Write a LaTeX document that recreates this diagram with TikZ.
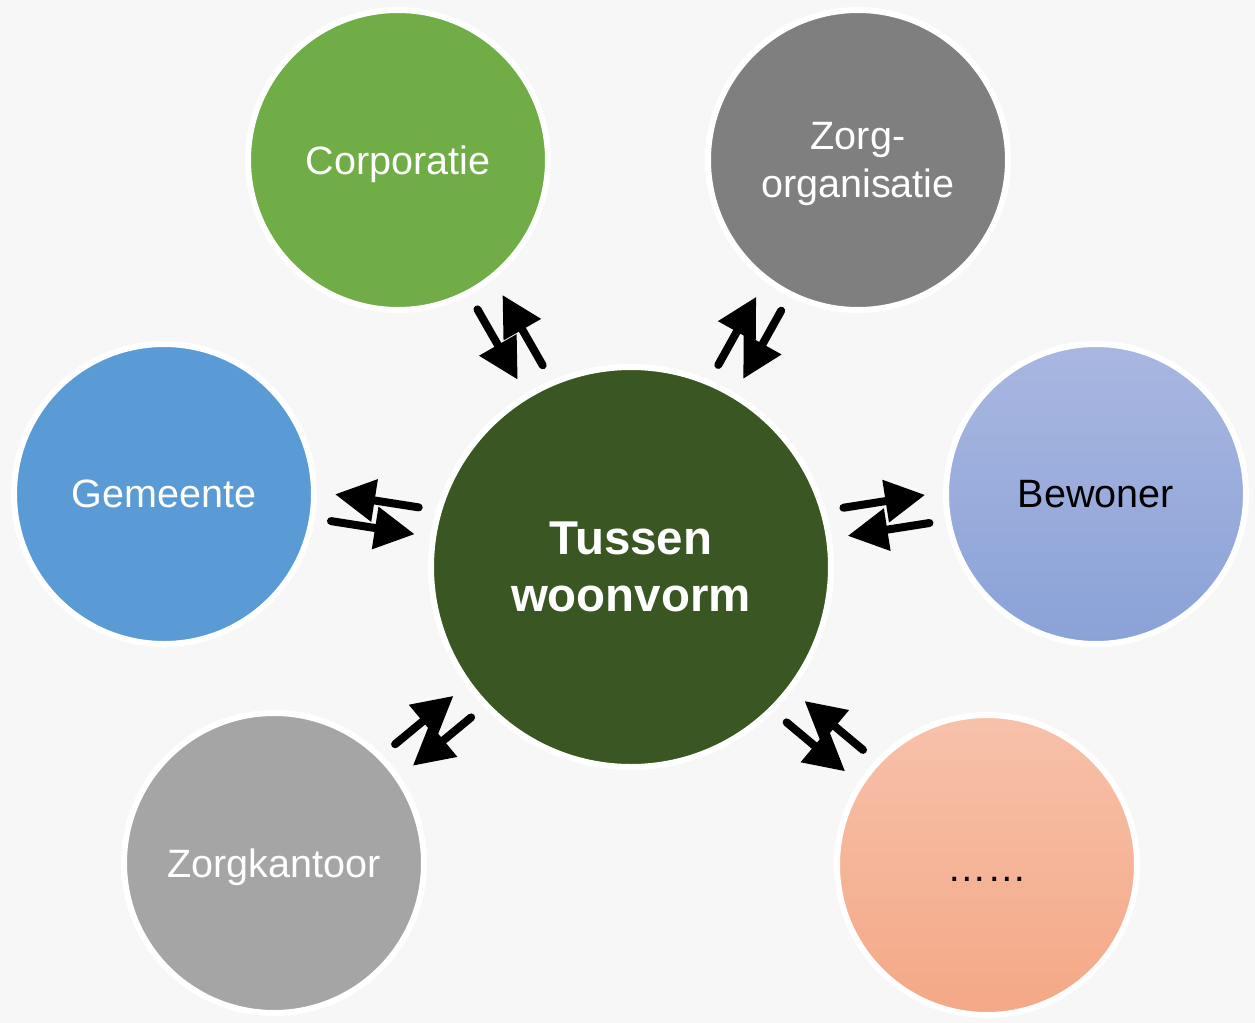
\documentclass[tikz,border=0pt]{standalone}
\usepackage{fontspec}
\setmainfont{Liberation Sans}
\usetikzlibrary{arrows.meta}
\definecolor{bggray}{HTML}{F7F7F7}
\definecolor{corpgreen}{HTML}{70AD47}
\definecolor{zorggray}{HTML}{7F7F7F}
\definecolor{gemblue}{HTML}{5B9BD5}
\definecolor{kantgray}{HTML}{A5A5A5}
\definecolor{hubgreen}{HTML}{3A5623}
\definecolor{bewtop}{HTML}{A9B7E0}
\definecolor{bewbot}{HTML}{8AA2D8}
\definecolor{etctop}{HTML}{F7C1AA}
\definecolor{etcbot}{HTML}{F4A886}
\tikzset{
  partner/.style={circle, minimum size=6cm, inner sep=0pt, draw=white, line width=0.12cm,
    text=white, align=center, text depth=0pt, font=\fontsize{22.5}{27}\selectfont},
  hubnode/.style={circle, minimum size=8cm, inner sep=0pt, draw=white, line width=0.12cm,
    fill=hubgreen, text=white, align=center, font=\fontsize{27}{32.4}\selectfont\bfseries},
  link/.style={-{Triangle[length=0.8cm,width=0.82cm]}, line width=0.16cm, line cap=round,
    shorten <=0.32cm, shorten >=0.32cm},
}

\begin{document}
\begin{tikzpicture}
  \fill[bggray] (0,0) rectangle (25.1,-20.46);
  \node[hubnode] (hub) at (12.62,-11.34) {Tussen\\woonvorm};
  \node[partner, fill=corpgreen] (corp) at (7.96,-3.20) {Corporatie};
  \node[partner, fill=zorggray] (zorg) at (17.16,-3.20) {Zorg-\\organisatie};
  \node[partner, fill=gemblue] (gem) at (3.28,-9.88) {Gemeente};
  \node[partner, top color=bewtop, bottom color=bewbot, text=black] (bew) at (21.92,-9.88) {Bewoner};
  \node[partner, fill=kantgray] (kant) at (5.48,-17.26) {Zorgkantoor};
  \node[partner, top color=etctop, bottom color=etcbot, text=black] (etc) at (19.74,-17.30) {\strut……};
  \foreach \n/\ax/\ay/\bx/\by in {corp/0.41/0.234/-0.09/-0.054, zorg/-0.388/0.216/0.11/-0.062,
      gem/0.082/0.516/0/-0.02, bew/-0.078/0.506/0.008/-0.056,
      kant/0.174/-0.212/-0.18/0.218, etc/-0.246/-0.296/0.112/0.132} {
    \draw[link, transform canvas={shift={(\ax,\ay)}}] (hub) -- (\n);
    \draw[link, transform canvas={shift={(\bx,\by)}}] (\n) -- (hub);
  }
\end{tikzpicture}
\end{document}
